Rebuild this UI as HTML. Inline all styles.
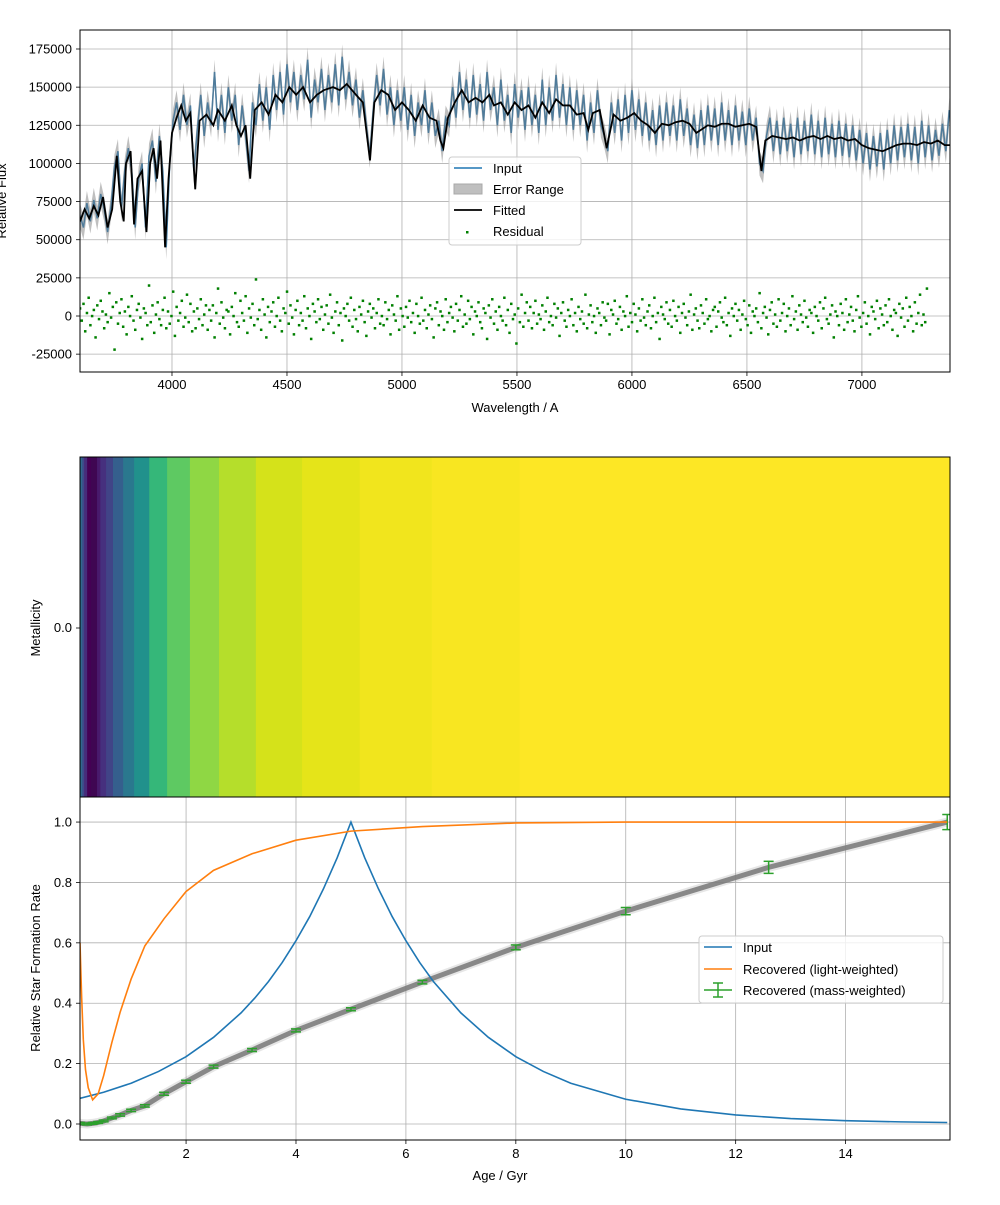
<!DOCTYPE html>
<html><head><meta charset="utf-8"><style>
body{margin:0;background:#fff}
svg text{font-family:"Liberation Sans","DejaVu Sans",sans-serif;font-size:13px;fill:#000}
</style></head><body>
<svg id="c" width="1000" height="1200" xmlns="http://www.w3.org/2000/svg"></svg>
<script>
// ---- spectrum data (flux in thousands) ----
const wl=[3600,3620,3640,3660,3680,3700,3720,3740,3760,3775,3790,3800,3820,3835,3850,3870,3889,3905,3920,3935,3950,3970,3985,4000,4020,4040,4060,4080,4101,4120,4150,4180,4200,4230,4260,4280,4300,4320,4340,4360,4390,4420,4450,4480,4510,4540,4570,4600,4630,4660,4700,4730,4760,4800,4830,4861,4880,4910,4940,4970,5000,5030,5060,5090,5120,5150,5167,5180,5200,5230,5260,5290,5320,5350,5380,5400,5430,5460,5490,5520,5550,5580,5610,5640,5670,5700,5730,5760,5790,5810,5830,5860,5890,5920,5950,5980,6010,6040,6070,6100,6130,6160,6190,6220,6250,6280,6300,6330,6360,6390,6420,6450,6480,6510,6540,6563,6580,6610,6640,6670,6700,6730,6760,6790,6820,6850,6880,6910,6940,6970,7000,7030,7060,7090,7120,7150,7180,7210,7240,7270,7300,7330,7360,7383];
const fitted=[62,70,64,72,66,78,58,70,105,75,62,100,108,60,90,95,55,100,110,90,115,45,90,120,130,138,128,133,83,128,132,125,135,128,138,125,118,125,90,135,140,132,145,140,150,145,150,140,145,148,150,148,152,145,140,102,140,148,145,135,140,135,128,138,130,128,115,110,130,140,148,140,143,140,145,138,140,132,140,135,138,130,140,133,142,138,138,132,133,122,133,135,110,132,128,130,133,128,125,120,126,125,127,128,126,120,122,125,124,126,126,124,125,126,124,95,115,118,117,116,117,115,117,118,116,118,116,117,115,116,112,110,109,108,110,112,113,113,112,114,113,115,112,112];
// input flux sampled every 15 A from 3600 A
const inputFlux=[66,58,74,62,76,64,80,70,55,72,98,108,70,96,110,95,58,90,100,58,
105,115,88,118,95,45,100,128,140,122,145,125,138,95,122,145,118,140,125,160,
122,145,120,150,128,145,112,138,118,95,140,125,152,128,150,122,158,135,160,132,
165,140,160,135,158,142,168,130,155,140,162,135,158,140,165,138,170,142,160,138,
155,130,148,125,105,135,158,138,162,132,150,125,148,128,150,122,145,118,140,125,
148,120,140,118,128,108,130,125,150,130,160,135,155,130,158,132,152,128,160,135,
150,125,155,128,145,120,152,130,148,122,150,125,145,120,155,125,150,128,158,130,
152,125,150,122,148,125,145,115,140,120,148,125,118,108,140,120,142,115,145,120,
148,122,142,118,140,115,135,112,138,115,140,118,138,115,142,118,136,112,132,110,
135,112,138,115,136,112,140,115,135,112,138,115,134,112,136,115,130,100,95,118,
130,108,128,106,130,108,126,104,130,106,128,108,132,106,128,104,130,106,126,104,
128,105,126,104,125,102,122,100,120,96,118,98,120,96,122,100,125,102,124,104,
126,102,124,100,128,104,125,102,122,105,126,108,135];
const inStart=3600, inStep=15;
const fluxErr=8;
// residuals every 7.5 A from 3600 A
const residual=[5,-3,8,-10,2,12,-6,0,4,-14,7,-2,10,3,-8,1,-4,15,-1,6,
-22,9,-5,2,11,-7,3,-12,6,0,13,-3,-9,4,8,-1,-15,5,2,-6,
20,-4,7,-11,1,9,-2,-6,4,12,-8,3,-5,0,16,-13,6,-3,2,10,
-7,-1,14,-4,8,-10,3,-8,5,-2,11,-6,1,7,-9,4,-3,7,-14,2,
18,-5,9,-1,-8,4,3,-12,6,0,15,-4,-7,10,2,-3,13,-11,5,-1,
8,-6,24,-2,4,-9,11,1,-14,6,-4,3,9,-7,0,12,-3,-10,5,2,
16,-5,7,-1,-12,4,10,-6,2,-3,13,-8,5,0,-15,8,3,-4,11,-2,
6,-9,1,7,-5,14,-1,-11,3,9,-6,2,-16,5,0,8,-3,12,-7,4,
-2,-10,6,1,10,-4,-13,3,8,-1,5,-8,2,11,-5,0,-6,9,-2,4,
-12,7,1,-3,13,-9,5,0,-7,6,-1,10,-4,2,-11,8,0,-5,12,-3,
4,-8,1,7,-2,-14,5,9,-6,3,0,-9,11,-4,2,6,-1,-10,8,-3,
4,13,-7,1,-5,10,-2,6,-12,3,0,9,-4,-8,5,2,-15,7,-1,11,
-5,3,-9,6,0,-3,12,-6,4,-11,8,-2,1,-18,5,-4,14,-7,2,9,
-3,6,-8,2,10,-5,1,-2,7,-9,3,12,-4,0,-6,8,-1,5,-13,2,
9,-3,-7,4,0,11,-6,2,-10,6,-2,3,-5,14,-8,1,7,-4,0,-11,
5,2,-6,9,-1,-3,8,-12,4,1,10,-5,-2,6,-9,3,0,13,-7,2,
-4,8,1,-10,5,-3,11,-1,-6,3,7,-8,0,12,-4,2,-15,6,1,-2,
9,-5,4,-7,10,0,-3,6,-11,2,8,-1,-6,3,14,-9,1,5,-3,-8,
7,2,-5,11,-2,0,-10,4,6,-7,3,9,-1,-4,12,-6,2,-13,5,0,
8,-3,4,-9,1,10,-2,-6,7,-11,3,0,5,-4,15,-8,2,6,-1,-12,
4,9,-5,1,-7,11,-3,2,8,-10,0,5,-6,13,-2,3,-9,7,1,-4,
10,-1,-7,4,2,-11,6,0,-3,9,-8,5,12,-2,-5,1,7,-14,3,0,
-6,8,2,-9,11,-4,1,6,-3,-10,4,13,-1,-7,2,9,-5,0,-12,6,
3,-2,10,-8,5,1,-6,7,-4,11,0,-9,4,2,-13,8,-1,5,-7,12,
-3,6,0,-10,9,-5,2,14,-6,1,-4,18];
// ---- metallicity heatmap ----
const bandEdges=[0.073,0.11,0.145,0.2,0.27,0.38,0.44,0.545,0.67,0.855,1.055,1.33,1.655,2.07,2.6,3.27,4.11,5.16,6.47,8.07,15.9];
const bandColors=['#31688e','#3e4a89','#472c7a','#440154','#3f0652','#481a6c','#46307e','#414487','#355f8d','#2a788e','#21918c','#35b779','#5ec962','#8fd744','#b5de2b','#d5e21a','#e5e419','#f1e51d','#f8e621','#fde725'];
// ---- SFH data ----
const inAge=[0.07,0.5,1,1.5,2,2.5,3,3.25,3.5,3.75,4,4.25,4.5,4.75,5,5.25,5.5,5.75,6,6.25,6.5,7,7.5,8,8.5,9,10,11,12,13,14,15,15.85];
const inVal=[0.085,0.105,0.135,0.174,0.223,0.287,0.368,0.417,0.472,0.535,0.607,0.687,0.779,0.882,1.0,0.882,0.779,0.687,0.607,0.535,0.472,0.368,0.287,0.223,0.174,0.135,0.082,0.05,0.03,0.018,0.011,0.007,0.005];
const lwAge=[0.07,0.1,0.13,0.17,0.22,0.3,0.4,0.5,0.65,0.8,1.0,1.25,1.6,2.0,2.5,3.2,4.0,5.0,6.3,8.0,10,12.6,15.85];
const lwVal=[0.6,0.42,0.28,0.18,0.12,0.08,0.1,0.16,0.27,0.37,0.48,0.59,0.68,0.77,0.84,0.895,0.94,0.97,0.985,0.997,1.0,1.0,1.0];
const mwAge=[0.07,0.2,0.3,0.4,0.5,0.65,0.8,1.0,1.25,1.6,2.0,2.5,3.2,4.0,5.0,6.3,8.0,10,12.6,15.85];
const mwVal=[0.002,0.0,0.002,0.005,0.01,0.02,0.03,0.045,0.06,0.1,0.14,0.19,0.245,0.31,0.38,0.47,0.585,0.705,0.85,1.0];
const mwErr=[0.003,0.003,0.003,0.003,0.003,0.003,0.004,0.004,0.004,0.005,0.005,0.005,0.005,0.005,0.005,0.006,0.008,0.012,0.02,0.025];
const specXTicks=[4000,4500,5000,5500,6000,6500,7000];
const specYTicks=[-25000,0,25000,50000,75000,100000,125000,150000,175000];
const ageXTicks=[2,4,6,8,10,12,14];
const sfrYTicks=[0,0.2,0.4,0.6,0.8,1.0];

const NS='http://www.w3.org/2000/svg';
const svg=document.getElementById('c');
function mk(tag,attrs,parent){const e=document.createElementNS(NS,tag);for(const k in attrs)e.setAttribute(k,attrs[k]);(parent||svg).appendChild(e);return e;}
function txt(s,x,y,anchor,parent){const t=mk('text',{x:x,y:y,'text-anchor':anchor||'middle'},parent);t.textContent=s;return t;}

const sx1=w=>80+(w-3600)*870/3783;
const sy1=v=>30+(187.45-v)*342/224.15;
const sx3=a=>80+(a-0.07)*870/15.83;
const sy3=v=>797+(1.083-v)*343/1.136;

// ===== Panel 1 =====
const p1=mk('g',{});


mk('defs',{}).innerHTML='<clipPath id="cp1"><rect x="80" y="30" width="870" height="342"/></clipPath><clipPath id="cp3"><rect x="80" y="797" width="870" height="343"/></clipPath>';
const g1=mk('g',{},p1);


specXTicks.forEach(t=>{const x=sx1(t);mk('line',{x1:x,x2:x,y1:30,y2:372,stroke:'#b0b0b0','stroke-width':0.8},g1);mk('line',{x1:x,x2:x,y1:372,y2:376,stroke:'#000','stroke-width':0.8},g1);txt(String(t),x,389,'middle',g1);});
specYTicks.forEach(t=>{const y=sy1(t/1000);mk('line',{x1:80,x2:950,y1:y,y2:y,stroke:'#b0b0b0','stroke-width':0.8},g1);mk('line',{x1:76,x2:80,y1:y,y2:y,stroke:'#000','stroke-width':0.8},g1);txt(String(t),72,y+4.5,'end',g1);});
const d1=mk('g',{'clip-path':'url(#cp1)'},p1);
const inX=inputFlux.map((v,i)=>sx1(inStart+i*inStep));
let pts=inputFlux.map((v,i)=>inX[i]+','+sy1(v)).join(' ');
const inLine=mk('polyline',{points:pts,fill:'none',stroke:'#1f77b4','stroke-width':1.5},d1);


let up=inputFlux.map((v,i)=>inX[i]+','+sy1(v+fluxErr));
let dn=inputFlux.map((v,i)=>inX[i]+','+sy1(v-fluxErr)).reverse();
const band=mk('polygon',{points:up.concat(dn).join(' '),fill:'rgba(128,128,128,0.5)',stroke:'none'},d1);


pts=wl.map((w,i)=>sx1(w)+','+sy1(fitted[i])).join(' ');
const fitLine=mk('polyline',{points:pts,fill:'none',stroke:'#000','stroke-width':1.8},d1);


const rg=mk('g',{fill:'#008000'},d1);


residual.forEach((r,i)=>{const c=mk('rect',{x:sx1(3600+i*7.5)-1.2,y:sy1(r)-1.2,width:2.5,height:2.5},rg);

});
mk('rect',{x:80,y:30,width:870,height:342,fill:'none',stroke:'#000','stroke-width':1},p1);
const xl1=txt('Wavelength / A',515,412,'middle',p1);


const yl1=mk('text',{x:0,y:0,'text-anchor':'middle',transform:'translate(6,201) rotate(-90)'},p1);yl1.textContent='Relative Flux';


const lg1=mk('g',{},p1);


mk('rect',{x:449,y:157,width:132,height:88,rx:3,fill:'rgba(255,255,255,0.8)',stroke:'#ccc'},lg1);
mk('line',{x1:454,x2:482,y1:168,y2:168,stroke:'#1f77b4','stroke-width':1.5},lg1);txt('Input',493,173,'start',lg1);
mk('rect',{x:454,y:184,width:28,height:10,fill:'#bfbfbf',stroke:'#a8a8a8'},lg1);txt('Error Range',493,194,'start',lg1);
mk('line',{x1:454,x2:482,y1:210,y2:210,stroke:'#000','stroke-width':1.8},lg1);txt('Fitted',493,215,'start',lg1);
mk('rect',{x:466,y:231,width:2.5,height:2.5,fill:'#008000'},lg1);txt('Residual',493,236,'start',lg1);

// ===== Panel 2 =====
const p2=mk('g',{});


bandColors.forEach((c,i)=>{const x0=sx3(bandEdges[i]),x1=sx3(bandEdges[i+1]);
const r=mk('rect',{x:x0,y:457,width:x1-x0+0.5,height:340,fill:c},p2);

});
mk('rect',{x:80,y:457,width:870,height:340,fill:'none',stroke:'#000','stroke-width':1},p2);
mk('line',{x1:76,x2:80,y1:628,y2:628,stroke:'#000','stroke-width':0.8},p2);
txt('0.0',72,632,'end',p2);
const yl2=mk('text',{x:0,y:0,'text-anchor':'middle',transform:'translate(40,628) rotate(-90)'},p2);yl2.textContent='Metallicity';



// ===== Panel 3 =====
const p3=mk('g',{});


ageXTicks.forEach(t=>{const x=sx3(t);mk('line',{x1:x,x2:x,y1:797,y2:1140,stroke:'#b0b0b0','stroke-width':0.8},p3);mk('line',{x1:x,x2:x,y1:1140,y2:1144,stroke:'#000','stroke-width':0.8},p3);txt(String(t),x,1158,'middle',p3);});
sfrYTicks.forEach(t=>{const y=sy3(t);mk('line',{x1:80,x2:950,y1:y,y2:y,stroke:'#b0b0b0','stroke-width':0.8},p3);mk('line',{x1:76,x2:80,y1:y,y2:y,stroke:'#000','stroke-width':0.8},p3);txt(t.toFixed(1),72,y+4.5,'end',p3);});
const d3=mk('g',{'clip-path':'url(#cp3)'},p3);
pts=mwAge.map((a,i)=>sx3(a)+','+sy3(mwVal[i])).join(' ');
mk('polyline',{points:pts,fill:'none',stroke:'rgba(128,128,128,0.2)','stroke-width':9,'stroke-linejoin':'round'},d3);
const mwBand=mk('polyline',{points:pts,fill:'none',stroke:'rgba(125,125,125,0.9)','stroke-width':5,'stroke-linejoin':'round'},d3);


const eg=mk('g',{stroke:'#2ca02c','stroke-width':1.5},d3);


mwAge.forEach((a,i)=>{const x=sx3(a),y1=sy3(mwVal[i]+mwErr[i]),y2=sy3(mwVal[i]-mwErr[i]);
mk('line',{x1:x,x2:x,y1:y1,y2:y2},eg);mk('line',{x1:x-5,x2:x+5,y1:y1,y2:y1},eg);mk('line',{x1:x-5,x2:x+5,y1:y2,y2:y2},eg);});
pts=inAge.map((a,i)=>sx3(a)+','+sy3(inVal[i])).join(' ');
const l3a=mk('polyline',{points:pts,fill:'none',stroke:'#1f77b4','stroke-width':1.6},d3);


pts=lwAge.map((a,i)=>sx3(a)+','+sy3(lwVal[i])).join(' ');
const l3b=mk('polyline',{points:pts,fill:'none',stroke:'#ff7f0e','stroke-width':1.6},d3);


mk('rect',{x:80,y:797,width:870,height:343,fill:'none',stroke:'#000','stroke-width':1},p3);
const xl3=txt('Age / Gyr',500,1180,'middle',p3);


const yl3=mk('text',{x:0,y:0,'text-anchor':'middle',transform:'translate(40,968) rotate(-90)'},p3);yl3.textContent='Relative Star Formation Rate';


const lg3=mk('g',{},p3);


mk('rect',{x:699,y:936,width:244,height:67,rx:3,fill:'rgba(255,255,255,0.8)',stroke:'#ccc'},lg3);
mk('line',{x1:704,x2:732,y1:947,y2:947,stroke:'#1f77b4','stroke-width':1.6},lg3);txt('Input',743,952,'start',lg3);
mk('line',{x1:704,x2:732,y1:969,y2:969,stroke:'#ff7f0e','stroke-width':1.6},lg3);txt('Recovered (light-weighted)',743,974,'start',lg3);
const lgE=mk('g',{stroke:'#2ca02c','stroke-width':1.5},lg3);
mk('line',{x1:704,x2:732,y1:990,y2:990},lgE);mk('line',{x1:718,x2:718,y1:983,y2:997},lgE);mk('line',{x1:713,x2:723,y1:983,y2:983},lgE);mk('line',{x1:713,x2:723,y1:997,y2:997},lgE);
txt('Recovered (mass-weighted)',743,995,'start',lg3);
</script>
</body></html>
